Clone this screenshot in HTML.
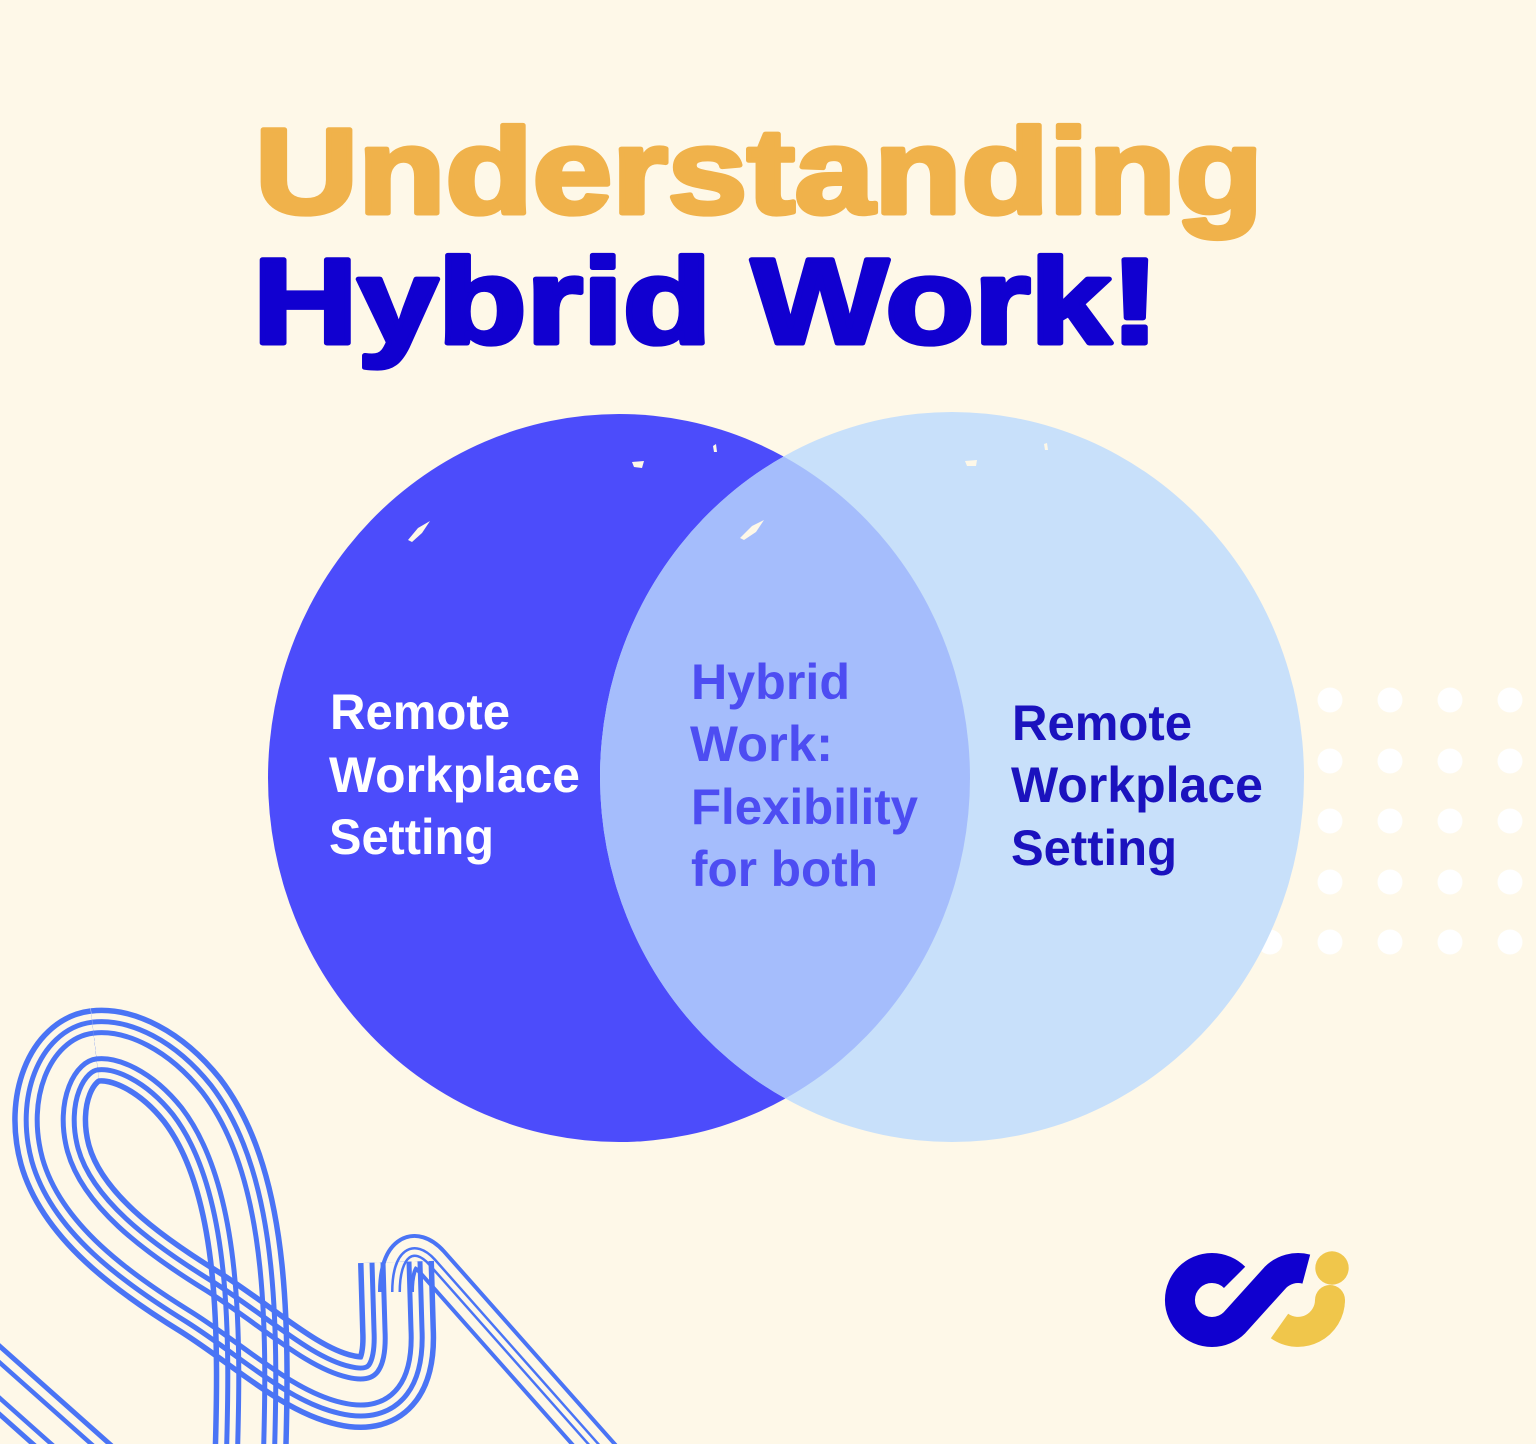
<!DOCTYPE html>
<html>
<head>
<meta charset="utf-8">
<style>
  html,body{margin:0;padding:0;background:#FEF8E8;}
  body{width:1536px;height:1444px;overflow:hidden;}
  svg{display:block;}
  .t{font-family:"Liberation Sans",Arial,sans-serif;font-weight:bold;}
</style>
</head>
<body>
<svg width="1536" height="1444" viewBox="0 0 1536 1444" xmlns="http://www.w3.org/2000/svg">
  <defs>
    <path id="pA" d="M 250,1470 C 254,1340 257,1185 192,1100 C 160,1060 122,1043 95,1046"/>
    <path id="pB" d="M 95,1046 C 62,1050 40,1100 55,1155 C 72,1215 135,1262 200,1302 C 255,1337 300,1380 345,1390 C 387,1400 400,1372 398,1330 L 396,1262"/>
    <path id="pH" d="M 396,1292 C 396,1252 414,1242 432,1262 L 627,1482"/>
    <path id="pC" d="M -40,1345 L 150,1514"/>
    <mask id="mA" maskUnits="userSpaceOnUse" x="0" y="0" width="1536" height="1444">
      <g fill="none">
        <use href="#pA" stroke="#fff" stroke-width="76"/>
        <use href="#pA" stroke="#000" stroke-width="65"/>
        <use href="#pA" stroke="#fff" stroke-width="53"/>
        <use href="#pA" stroke="#000" stroke-width="43"/>
        <use href="#pA" stroke="#fff" stroke-width="31"/>
        <use href="#pA" stroke="#000" stroke-width="21"/>
      </g>
    </mask>
    <mask id="mB" maskUnits="userSpaceOnUse" x="0" y="0" width="1536" height="1444">
      <g fill="none">
        <use href="#pB" stroke="#fff" stroke-width="76"/>
        <use href="#pB" stroke="#000" stroke-width="65"/>
        <use href="#pB" stroke="#fff" stroke-width="53"/>
        <use href="#pB" stroke="#000" stroke-width="43"/>
        <use href="#pB" stroke="#fff" stroke-width="31"/>
        <use href="#pB" stroke="#000" stroke-width="21"/>
      </g>
    </mask>
    <mask id="mH" maskUnits="userSpaceOnUse" x="0" y="0" width="1536" height="1444">
      <g fill="none">
        <use href="#pH" stroke="#fff" stroke-width="36"/>
        <use href="#pH" stroke="#000" stroke-width="28"/>
        <use href="#pH" stroke="#fff" stroke-width="10"/>
        <use href="#pH" stroke="#000" stroke-width="5"/>
      </g>
    </mask>
    <mask id="mC" maskUnits="userSpaceOnUse" x="0" y="0" width="1536" height="1444">
      <g fill="none">
        <use href="#pC" stroke="#fff" stroke-width="56"/>
        <use href="#pC" stroke="#000" stroke-width="46"/>
        <use href="#pC" stroke="#fff" stroke-width="31"/>
        <use href="#pC" stroke="#000" stroke-width="22"/>
      </g>
    </mask>
    <clipPath id="leftClip">
      <ellipse cx="619" cy="778" rx="351" ry="364"/>
    </clipPath>
  </defs>

  <rect x="0" y="0" width="1536" height="1444" fill="#FEF8E8"/>

  <!-- title -->
  <text class="t" x="255" y="213" font-size="121" fill="#F0B24B" stroke="#F0B24B" stroke-width="5" stroke-linejoin="round" textLength="1008" lengthAdjust="spacingAndGlyphs">Understanding</text>
  <text class="t" x="253" y="343" font-size="121" fill="#1100D0" stroke="#1100D0" stroke-width="5" stroke-linejoin="round" textLength="906" lengthAdjust="spacingAndGlyphs">Hybrid Work!</text>

  <!-- dots -->
  <g fill="#FFFFFF">
    <circle cx="1270" cy="700" r="12.5"/><circle cx="1330" cy="700" r="12.5"/><circle cx="1390" cy="700" r="12.5"/><circle cx="1450" cy="700" r="12.5"/><circle cx="1510" cy="700" r="12.5"/>
    <circle cx="1270" cy="761" r="12.5"/><circle cx="1330" cy="761" r="12.5"/><circle cx="1390" cy="761" r="12.5"/><circle cx="1450" cy="761" r="12.5"/><circle cx="1510" cy="761" r="12.5"/>
    <circle cx="1270" cy="821" r="12.5"/><circle cx="1330" cy="821" r="12.5"/><circle cx="1390" cy="821" r="12.5"/><circle cx="1450" cy="821" r="12.5"/><circle cx="1510" cy="821" r="12.5"/>
    <circle cx="1270" cy="882" r="12.5"/><circle cx="1330" cy="882" r="12.5"/><circle cx="1390" cy="882" r="12.5"/><circle cx="1450" cy="882" r="12.5"/><circle cx="1510" cy="882" r="12.5"/>
    <circle cx="1270" cy="942" r="12.5"/><circle cx="1330" cy="942" r="12.5"/><circle cx="1390" cy="942" r="12.5"/><circle cx="1450" cy="942" r="12.5"/><circle cx="1510" cy="942" r="12.5"/>
  </g>

  <!-- venn circles -->
  <ellipse cx="619" cy="778" rx="351" ry="364" fill="#4C4CFB"/>
  <ellipse cx="952" cy="777" rx="352" ry="365" fill="#C8E0FA"/>
  <ellipse cx="952" cy="777" rx="352" ry="365" fill="#A5BDFC" clip-path="url(#leftClip)"/>

  <!-- small nicks -->
  <g fill="#FEF8E8">
    <polygon points="632,462 644,461 642,468 634,467"/>
    <polygon points="408,540 418,528 430,521 422,533 412,542"/>
    <polygon points="740,538 752,526 764,520 756,532 744,540"/>
    <polygon points="713,446 716,444 717,452 714,452"/>
    <polygon points="965,461 977,460 976,466 967,466"/>
    <polygon points="1044,444 1047,443 1048,450 1045,450"/>
  </g>

  <!-- left text -->
  <g class="t" font-size="50" fill="#FFFFFF">
    <text x="330" y="729" textLength="180" lengthAdjust="spacingAndGlyphs">Remote</text>
    <text x="329" y="792" textLength="251" lengthAdjust="spacingAndGlyphs">Workplace</text>
    <text x="329" y="854" textLength="165" lengthAdjust="spacingAndGlyphs">Setting</text>
  </g>

  <!-- middle text -->
  <g class="t" font-size="50" fill="#4D4DF2">
    <text x="691" y="699" textLength="159" lengthAdjust="spacingAndGlyphs">Hybrid</text>
    <text x="690" y="761" textLength="143" lengthAdjust="spacingAndGlyphs">Work:</text>
    <text x="691" y="824" textLength="227" lengthAdjust="spacingAndGlyphs">Flexibility</text>
    <text x="691" y="886" textLength="187" lengthAdjust="spacingAndGlyphs">for both</text>
  </g>

  <!-- right text -->
  <g class="t" font-size="50" fill="#1B12BE">
    <text x="1012" y="740" textLength="180" lengthAdjust="spacingAndGlyphs">Remote</text>
    <text x="1011" y="802" textLength="252" lengthAdjust="spacingAndGlyphs">Workplace</text>
    <text x="1011" y="865" textLength="166" lengthAdjust="spacingAndGlyphs">Setting</text>
  </g>

  <!-- scribble -->
  <rect x="0" y="0" width="1536" height="1444" fill="#4A74F5" mask="url(#mC)"/>
  <rect x="0" y="0" width="1536" height="1444" fill="#4A74F5" mask="url(#mA)"/>
  <rect x="0" y="0" width="1536" height="1444" fill="#4A74F5" mask="url(#mB)"/>
  <rect x="0" y="0" width="1536" height="1444" fill="#4A74F5" mask="url(#mH)"/>

  <!-- logo -->
  <path d="M 1330,1300 A 32 32 0 0 1 1279.5,1326" fill="none" stroke="#F0C64B" stroke-width="30" stroke-linecap="butt"/>
  <circle cx="1330" cy="1300" r="15" fill="#F0C64B"/>
  <circle cx="1332" cy="1268" r="16.7" fill="#F0C64B"/>
  <path d="M 1234.6,1277.4 A 32 32 0 1 0 1234.6,1322.6 L 1275.4,1277.4 A 32 32 0 0 1 1306.3,1269.1" fill="none" stroke="#1000CF" stroke-width="30" stroke-linecap="butt" stroke-linejoin="round"/>
</svg>
</body>
</html>
